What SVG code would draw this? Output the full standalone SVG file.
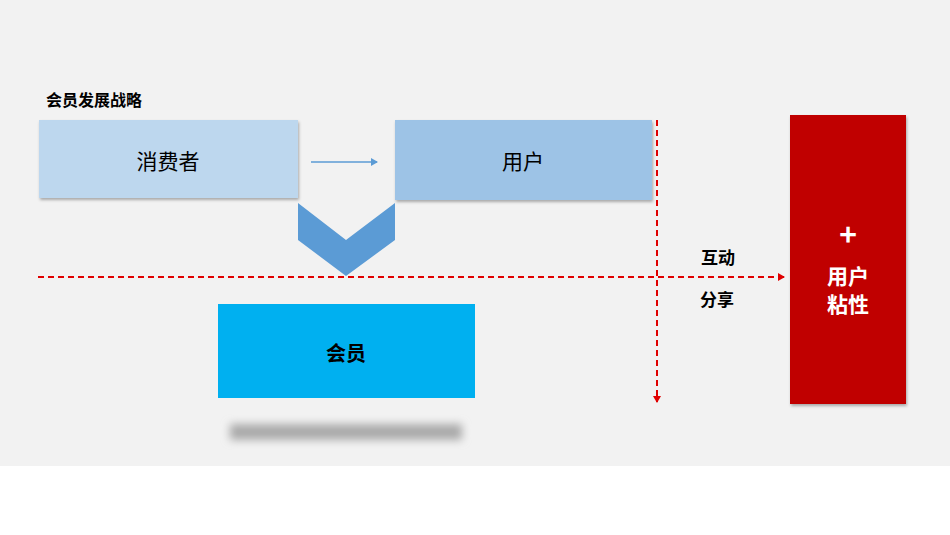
<svg xmlns="http://www.w3.org/2000/svg" width="950" height="535" viewBox="0 0 950 535">
<defs>
<style>
.t{font-family:"Noto Sans CJK SC","Liberation Sans",sans-serif}
.b{font-weight:bold}
.dash{stroke:#E00000;stroke-width:2;stroke-dasharray:6,4;fill:none}
</style>
<marker id="ra" markerWidth="8" markerHeight="8" refX="6" refY="4" orient="auto" markerUnits="userSpaceOnUse"><path d="M0,0L7,4L0,8z" fill="#E00000"/></marker>
<marker id="ba" markerWidth="8" markerHeight="8" refX="6" refY="4" orient="auto" markerUnits="userSpaceOnUse"><path d="M0,0L7,4L0,8z" fill="#5B9BD5"/></marker>
<filter id="sh" x="-10%" y="-10%" width="120%" height="130%"><feDropShadow dx="1" dy="2" stdDeviation="1.5" flood-color="#000" flood-opacity="0.3"/></filter>
<filter id="bl" x="-10%" y="-100%" width="120%" height="300%"><feGaussianBlur stdDeviation="4"/></filter>
</defs>
<rect x="0" y="0" width="950" height="466" fill="#F2F2F2"/>
<rect x="0" y="466" width="950" height="69" fill="#FFFFFF"/>
<text class="t b" x="46" y="106" font-size="16">会员发展战略</text>
<g id="consumer"><rect x="39" y="120" width="259" height="78" fill="#BDD7EE" filter="url(#sh)"/><text class="t" x="168" y="169" font-size="21" text-anchor="middle">消费者</text></g>
<g id="user"><rect x="395" y="120" width="257" height="80" fill="#9DC3E6" filter="url(#sh)"/><text class="t" x="523" y="169" font-size="21" text-anchor="middle">用户</text></g>
<g id="chevron"><polygon points="298,203 346,240 395,203 395,240 346,276 298,240" fill="#5B9BD5"/></g>
<g id="member"><rect x="230" y="424" width="232" height="16" fill="#AAAAAA" filter="url(#bl)"/><rect x="218" y="304" width="257" height="94" fill="#00B0F0"/><text class="t b" x="346" y="361" font-size="20" text-anchor="middle">会员</text></g>
<g id="stickiness"><rect x="790" y="115" width="116" height="289" fill="#C00000" filter="url(#sh)"/>
<text class="t b" x="848" y="246" font-size="30" fill="#fff" text-anchor="middle">+</text>
<text class="t b" x="848" y="284" font-size="21" fill="#fff" text-anchor="middle">用户</text>
<text class="t b" x="848" y="312" font-size="21" fill="#fff" text-anchor="middle">粘性</text></g>
<g id="connectors">
<line x1="311" y1="162" x2="377" y2="162" stroke="#5B9BD5" stroke-width="1.5" marker-end="url(#ba)"/>
<line class="dash" x1="38" y1="277" x2="784" y2="277" marker-end="url(#ra)"/>
<line class="dash" x1="657" y1="120" x2="657" y2="402" marker-end="url(#ra)"/>
</g>
<text class="t b" x="718" y="264" font-size="17" text-anchor="middle">互动</text>
<text class="t b" x="717" y="306" font-size="17" text-anchor="middle">分享</text>
</svg>
